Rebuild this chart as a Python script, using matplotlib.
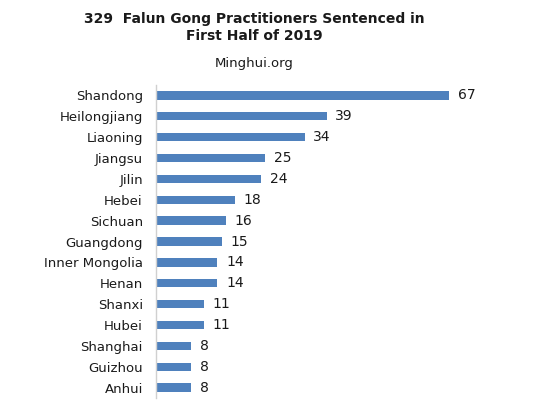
import matplotlib
matplotlib.use("Agg")
import matplotlib.pyplot as plt

provinces = ["Shandong", "Heilongjiang", "Liaoning", "Jiangsu", "Jilin", "Hebei",
             "Sichuan", "Guangdong", "Inner Mongolia", "Henan", "Shanxi", "Hubei",
             "Shanghai", "Guizhou", "Anhui"]
counts = [67, 39, 34, 25, 24, 18, 16, 15, 14, 14, 11, 11, 8, 8, 8]

title = "329  Falun Gong Practitioners Sentenced in\nFirst Half of 2019"
subtitle = "Minghui.org"

plt.rcParams["font.family"] = ["DejaVu Sans"]

fig = plt.figure(figsize=(5.6, 4.0), dpi=100)
ax = fig.add_axes([156 / 560, 2 / 400, (449 - 156) / 560, (315 - 2) / 400])

ypos = list(range(len(provinces)))
ax.barh(ypos, counts, height=0.4, color="#4F81BD")
ax.set_xlim(0, 67)
ax.set_ylim(len(provinces) - 0.5, -0.5)
ax.set_yticks(ypos)
ax.set_yticklabels(provinces, fontsize=9.5, color="#1a1a1a")
ax.tick_params(axis="y", length=0, pad=9.5)
ax.set_xticks([])
for side in ["top", "right", "bottom"]:
    ax.spines[side].set_visible(False)
ax.spines["left"].set_color("#d0d0d0")
ax.spines["left"].set_linewidth(1.0)

for y, v in zip(ypos, counts):
    ax.annotate(str(v), xy=(v, y), xytext=(6.3, 0), textcoords="offset points",
                va="center", ha="left", fontsize=10, color="#1a1a1a",
                annotation_clip=False)

fig.text(254 / 560, 1 - 27.5 / 400, title, ha="center", va="center",
         fontsize=10, fontweight="bold", color="#1a1a1a", linespacing=1.3)
fig.text(254 / 560, 1 - 64 / 400, subtitle, ha="center", va="center",
         fontsize=9.5, color="#1a1a1a")

fig.savefig("out.png", dpi=100, facecolor="white")
